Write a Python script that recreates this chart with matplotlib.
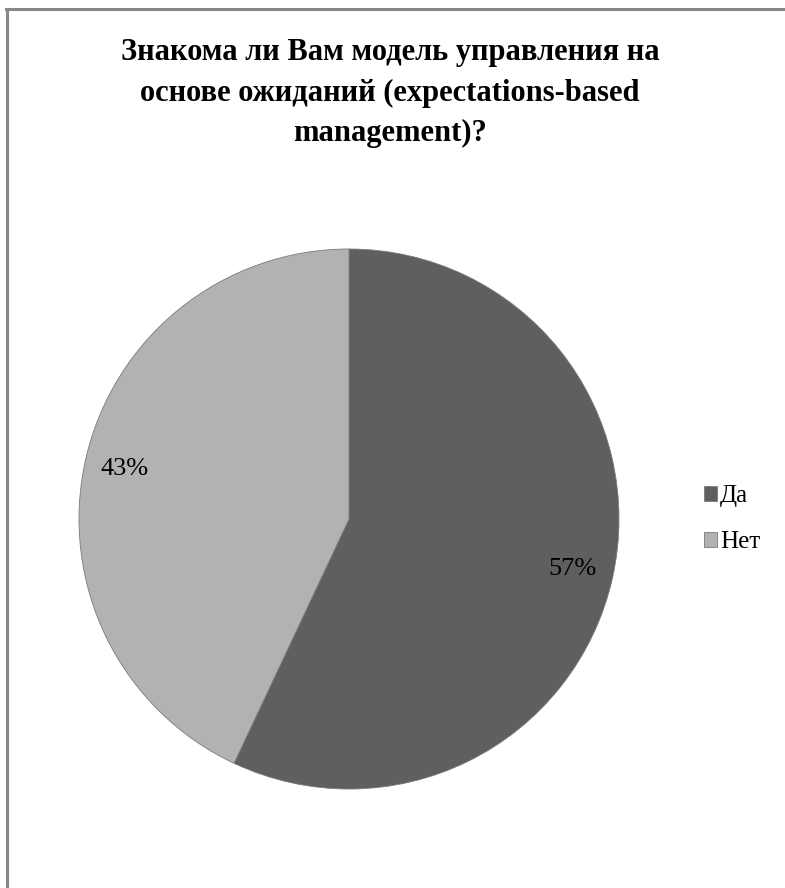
import matplotlib
matplotlib.use("Agg")
from matplotlib import pyplot as plt
from matplotlib.lines import Line2D

labels = ["Да", "Нет"]
shares = [57, 43]
colors = ["#5f5f5f", "#b2b2b2"]

title = "Знакома ли Вам модель управления на\nоснове ожиданий (expectations-based\nmanagement)?"

plt.rcParams['font.family'] = ['Liberation Serif', 'DejaVu Serif']

W, H = 785, 888
fig = plt.figure(figsize=(W / 100, H / 100), dpi=100)

# pie centre (349, 519) px from top-left, radius 270 px
cx, cy, r = 349, H - 519, 270
ax = fig.add_axes([(cx - r) / W, (cy - r) / H, 2 * r / W, 2 * r / H])
wedges, texts, autotexts = ax.pie(shares, colors=colors, startangle=90, counterclock=False,
                                  autopct='%d%%', pctdistance=0.85,
                                  wedgeprops=dict(edgecolor='#7a7a7a', linewidth=0.6))
for t in autotexts:
    t.set_fontsize(19)
    t.set_color('black')
ax.set_xlim(-1, 1)
ax.set_ylim(-1, 1)
ax.set_aspect('equal')

fig.text(390 / W, 1 - 38 / H, title, ha='center', va='top', fontsize=22,
         fontweight='bold', linespacing=1.52)

leg = fig.legend(wedges, labels, loc='center left', bbox_to_anchor=(681 / W, 1 - 519 / H),
                 frameon=False, fontsize=18, handlelength=0.55, handleheight=0.55,
                 handletextpad=0.12, labelspacing=0.95)

# chart border (top and left edges visible)
fig.add_artist(Line2D([6 / W, 1], [1 - 9.5 / H, 1 - 9.5 / H], color='#878787', lw=2.2))
fig.add_artist(Line2D([7 / W, 7 / W], [0, 1 - 9.5 / H], color='#878787', lw=2.2))

fig.savefig('out.png', dpi=100)
